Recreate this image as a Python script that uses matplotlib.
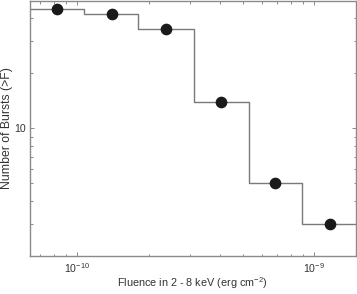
import numpy as np
import matplotlib.pyplot as plt
from matplotlib.ticker import NullFormatter

plt.rcParams['font.family'] = ['Liberation Sans', 'DejaVu Sans']
plt.rcParams['mathtext.fontset'] = 'custom'
plt.rcParams['mathtext.rm'] = 'Liberation Sans'
plt.rcParams['mathtext.it'] = 'Liberation Sans:italic'

# fluence bins (erg cm^-2) and cumulative burst counts
bin_edges = [6.3e-11, 1.07e-10, 1.81e-10, 3.1e-10, 5.3e-10, 8.9e-10, 1.5e-9]
bin_centers = [8.2e-11, 1.4e-10, 2.37e-10, 4.03e-10, 6.84e-10, 1.17e-9]
n_bursts = [45, 42, 35, 14, 5, 3]
x_ticks = [1e-10, 1e-9]
y_ticks = [10]

axis_col = '#8a8a8a'
text_col = '#333333'

fig = plt.figure(figsize=(3.57, 2.94), dpi=100)
ax = fig.add_axes([0.083, 0.129, 0.914, 0.869])

# step histogram
steps = list(n_bursts) + [n_bursts[-1]]
ax.step(bin_edges, steps, where='post', color='#7a7a7a', lw=1.0)
ax.plot(bin_centers, n_bursts, 'o', color='#1a1a1a', ms=7.4, mec='#1a1a1a')

ax.set_xscale('log')
ax.set_yscale('log')
ax.set_xlim(bin_edges[0], bin_edges[-1])
ax.set_ylim(2, 50)

ax.set_xticks(x_ticks)
ax.set_yticks(y_ticks)
ax.set_yticklabels([str(t) for t in y_ticks])
ax.xaxis.set_minor_formatter(NullFormatter())
ax.yaxis.set_minor_formatter(NullFormatter())

for s in ax.spines.values():
    s.set_color(axis_col)
    s.set_linewidth(1.0)

ax.tick_params(which='both', direction='in', top=True, right=True,
               color=axis_col, labelcolor=text_col, labelsize=7.6, width=0.7)
ax.tick_params(which='major', length=3, pad=4)
ax.tick_params(axis='y', which='major', pad=3)
ax.tick_params(which='minor', length=1.8)

ax.set_xlabel('Fluence in 2 - 8 keV (erg cm$^{-2}$)', fontsize=7.8, color=text_col, labelpad=0)
ax.set_ylabel('Number of Bursts (>F)', fontsize=8.8, color=text_col)
ax.yaxis.set_label_coords(-0.050, 0.5)

fig.savefig('out.png', dpi=100)
